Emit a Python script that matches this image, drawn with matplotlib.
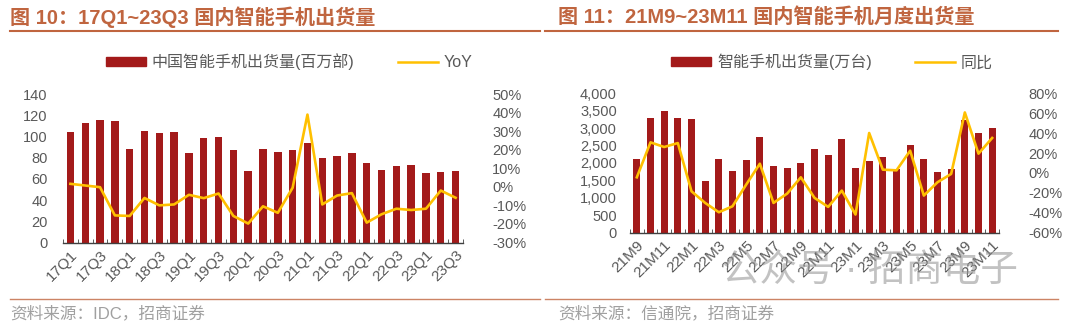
import matplotlib
matplotlib.use("Agg")
import matplotlib.pyplot as plt
from matplotlib.patches import Patch
from matplotlib.lines import Line2D
import numpy as np

plt.rcParams['font.family'] = ['Liberation Sans', 'Noto Sans CJK SC']

# Figure 10: quarterly shipments (million units) and YoY (%)
quarters = ['17Q1', '17Q2', '17Q3', '17Q4', '18Q1', '18Q2', '18Q3', '18Q4',
            '19Q1', '19Q2', '19Q3', '19Q4', '20Q1', '20Q2', '20Q3', '20Q4',
            '21Q1', '21Q2', '21Q3', '21Q4', '22Q1', '22Q2', '22Q3', '22Q4',
            '23Q1', '23Q2', '23Q3']
q_shipments = [104.5, 112.4, 115.5, 114.9, 88.2, 105.5, 103.6, 104.2,
               84.5, 98.9, 99.8, 87.0, 67.5, 88.3, 85.7, 87.3,
               93.6, 79.5, 81.6, 84.2, 74.8, 68.2, 71.9, 73.5,
               65.9, 66.3, 67.8]
q_yoy = [1.6, 0.7, -0.2, -15.4, -15.7, -6.0, -10.0, -9.5,
         -4.3, -6.1, -3.6, -15.7, -19.8, -10.5, -14.0, -0.5,
         38.9, -9.5, -4.7, -3.4, -19.3, -14.8, -11.8, -12.5,
         -11.8, -2.0, -5.9]

# Figure 11: monthly shipments (10k units) and YoY (%)
months = ['21M9', '21M10', '21M11', '21M12', '22M1', '22M2', '22M3', '22M4',
          '22M5', '22M6', '22M7', '22M8', '22M9', '22M10', '22M11', '22M12',
          '23M1', '23M2', '23M3', '23M4', '23M5', '23M6', '23M7', '23M8',
          '23M9', '23M10', '23M11']
m_shipments = [2101, 3281, 3500, 3281, 3252, 1476, 2118, 1784,
               2072, 2751, 1928, 1842, 2003, 2397, 2233, 2694,
               1842, 2061, 2167, 1813, 2532, 2101, 1744, 1813,
               3232, 2849, 3001]
m_yoy = [-4.4, 30.8, 26.1, 30.1, -18.5, -30.2, -39.6, -33.6,
         -11.8, 9.3, -30.2, -20.8, -4.4, -25.1, -34.2, -17.8,
         -41.9, 40.2, 3.3, 2.6, 22.4, -22.8, -9.4, -1.0,
         60.9, 19.4, 35.2]

BAR = '#A31A1A'
LINE = '#FFC000'
HEAD = '#C0653F'
GREY = '#595959'
W, H = 1080, 328

fig = plt.figure(figsize=(W / 100, H / 100), dpi=100)


def px(x, y):
    return x / W, 1 - y / H


def panel(rect, cats, bars, yoy, ylim, ystep, rlim, rstep, yfmt, lpad):
    left, top, right, bottom = rect
    ax = fig.add_axes([left / W, 1 - bottom / H, (right - left) / W, (bottom - top) / H])
    x = np.arange(len(cats))
    ax.bar(x, bars, width=0.5, color=BAR, zorder=2)
    ax.set_xlim(-0.5, len(cats) - 0.5)
    ax.set_ylim(*ylim)
    ax.set_yticks(np.arange(ylim[0], ylim[1] + 1, ystep))
    ax.yaxis.set_major_formatter(yfmt)
    for s in ['top', 'left', 'right']:
        ax.spines[s].set_visible(False)
    ax.spines['bottom'].set_color('#404040')
    ax.spines['bottom'].set_linewidth(1)
    ax.tick_params(axis='y', length=0, colors=GREY, labelsize=10.5, pad=lpad)
    ax.set_xticks(x[::2])
    ax.set_xticklabels(cats[::2], rotation=45, ha='right', rotation_mode='anchor')
    ax.set_xticks(np.arange(-0.5, len(cats), 1), minor=True)
    ax.tick_params(axis='x', which='major', length=0, colors=GREY, labelsize=11, pad=4)
    ax.tick_params(axis='x', which='minor', length=3, color='#404040', direction='in')

    ax2 = ax.twinx()
    ax2.plot(x, yoy, color=LINE, lw=1.9, zorder=3)
    ax2.set_ylim(*rlim)
    ax2.set_yticks(np.arange(rlim[0], rlim[1] + 1, rstep))
    ax2.yaxis.set_major_formatter(lambda v, p: f'{v:.0f}%')
    for s in ['top', 'left', 'right', 'bottom']:
        ax2.spines[s].set_visible(False)
    ax2.tick_params(axis='y', length=0, colors=GREY, labelsize=10.5, pad=21)
    return ax


panel((63, 94, 463, 242.5), quarters, q_shipments, q_yoy, (0, 140), 20, (-30, 50), 10,
      lambda v, p: f'{v:.0f}', 11)
panel((630, 93.5, 999, 232.5), months, m_shipments, m_yoy, (0, 4000), 500, (-60, 80), 20,
      lambda v, p: f'{v:,.0f}', 9.5)

# titles and rules
fig.text(*px(10, 17), '图 10：17Q1~23Q3 国内智能手机出货量', color=HEAD, fontsize=14.5,
         fontweight='bold', va='center', ha='left')
fig.text(*px(558, 17), '图 11：21M9~23M11 国内智能手机月度出货量', color=HEAD, fontsize=14.5,
         fontweight='bold', va='center', ha='left')
for x0, x1 in [(10, 540), (545, 1058)]:
    fig.add_artist(Line2D([x0 / W, x1 / W], [1 - 31 / H] * 2, color=HEAD, lw=1.5))
    fig.add_artist(Line2D([x0 / W, x1 / W], [1 - 299 / H] * 2, color=HEAD, lw=1.0, alpha=0.8))

# legends
fig.legend(handles=[Patch(color=BAR, label='中国智能手机出货量(百万部)'),
                    Line2D([], [], color=LINE, lw=1.8, label='YoY')],
           loc='center left', bbox_to_anchor=px(92, 62), ncol=2, frameon=False,
           fontsize=11.5, handlelength=2.5, handleheight=0.45, columnspacing=2.7,
           handletextpad=0.35, labelcolor=GREY)
fig.legend(handles=[Patch(color=BAR, label='智能手机出货量(万台)'),
                    Line2D([], [], color=LINE, lw=1.8, label='同比')],
           loc='center left', bbox_to_anchor=px(657, 62), ncol=2, frameon=False,
           fontsize=11.5, handlelength=2.5, handleheight=0.45, columnspacing=2.7,
           handletextpad=0.35, labelcolor=GREY)

# sources
fig.text(*px(10, 313), '资料来源：IDC，招商证券', color='#A0A0A0', fontsize=12, va='center')
fig.text(*px(558, 313), '资料来源：信通院，招商证券', color='#A0A0A0', fontsize=12, va='center')

# watermark
fig.text(*px(870, 271), '公众号 · 招商电子', color='#909090', alpha=0.55, fontsize=27,
         va='center', ha='center')

fig.savefig('out.png', dpi=100)
